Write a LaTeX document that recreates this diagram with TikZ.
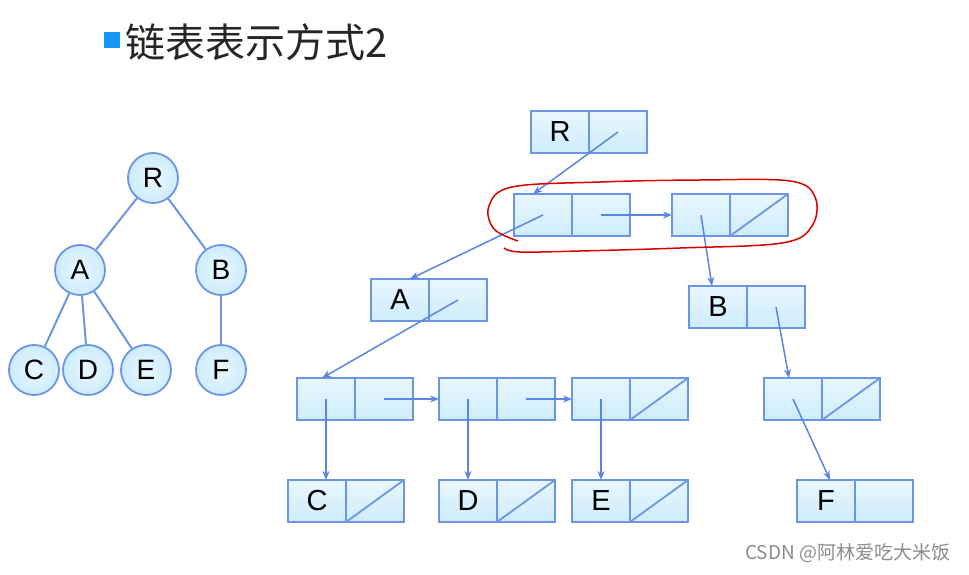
\documentclass[tikz,border=0pt]{standalone}
\usepackage{fontspec}
\setmainfont{Liberation Sans}
\newfontfamily\cjkfont{Noto Sans CJK SC}
\usetikzlibrary{positioning,arrows.meta}

\definecolor{cellfill}{RGB}{206,236,251}
\definecolor{celltop}{RGB}{232,247,254}
\definecolor{cellline}{RGB}{108,150,228}
\definecolor{ptrblue}{RGB}{92,132,226}
\definecolor{markblue}{RGB}{20,150,250}

\begin{document}
\begin{tikzpicture}[x=1pt,y=-1pt,
		cell/.style={rectangle,draw=cellline,line width=1.8pt,top color=celltop,bottom color=cellfill,
			minimum width=58pt,minimum height=42pt,inner sep=0pt,outer sep=0pt,
			font=\fontsize{29}{29}\selectfont},
		knot/.style={circle,draw=cellline,line width=1.8pt,inner color=celltop,outer color=cellfill,
			minimum size=50pt,inner sep=0pt,font=\fontsize{28}{28}\selectfont},
		edge/.style={draw=cellline,line width=2pt},
		ptr/.style={draw=ptrblue,line width=1.5pt,-{Stealth[length=9pt,width=7pt]}},
		slash/.style={draw=cellline,line width=1.8pt},
		ring/.style={draw=red!85!black,line width=1.5pt}]
		
		\useasboundingbox (0,0) rectangle (969,575);
		
		%title
		\fill[markblue] (104,32) rectangle (120,48);
		\node[anchor=west,inner sep=0pt,text=black!85,font=\cjkfont\fontsize{40}{40}\selectfont] (title) at (125,42) {链表表示方式2};
		
		%tree
		\foreach \nm/\x/\y in {R/153/178, A/80/270, B/221/270, C/34/370, D/88/370, E/146/370, F/221/370}
		\node[knot] (t\nm) at (\x,\y) {\nm};
		
		\foreach \von/\nach in {R/A, R/B, A/C, A/D, A/E, B/F}
		\draw[edge] (t\von) -- (t\nach);
		
		%lists
		\foreach \nm/\x/\y/\txt in {r/560/132/R, s/543/215/, t/701/215/, a/400/300/A, b/718/307/B,
			u/326/399/, v/468/399/, w/601/399/, z/793/399/, c/317/501/C, d/468/501/D, e/601/501/E, f/826/501/F}
		{
			\node[cell] (\nm1) at (\x,\y) {\txt};
			\node[cell,right=0pt of \nm1] (\nm2) {};
		}
		
		\foreach \nm in {t,w,z,c,d,e}
		\draw[slash] (\nm2.south west) -- (\nm2.north east);
		
		%pointer
		\draw[ptr] (r2.center) -- ([xshift=-10pt]s1.north);
		\draw[ptr] (s2.center) -- (t1.west);
		\draw[ptr] (s1.center) -- ([xshift=10pt]a1.north);
		\draw[ptr] (t1.center) -- ([xshift=-6pt]b1.north);
		\draw[ptr] (a2.center) -- ([xshift=-4pt]u1.north);
		\draw[ptr] (b2.center) -- ([xshift=-4pt]z1.north);
		\draw[ptr] (u2.center) -- (v1.west);
		\draw[ptr] (v2.center) -- (w1.west);
		\draw[ptr] (u1.center) -- (u1.center |- c1.north);
		\draw[ptr] (v1.center) -- (v1.center |- d1.north);
		\draw[ptr] (w1.center) -- (w1.center |- e1.north);
		\draw[ptr] (z1.center) -- ([xshift=4pt]f1.north);
		
		%markierung
		\draw[ring] plot[smooth,tension=0.6] coordinates {(518,241) (494,229) (489,206) (512,187) (600,182)
			(700,180) (790,181) (815,197) (812,226) (782,243) (680,248) (580,251) (520,252) (504,248)};
		
		%watermark
		\node[anchor=west,inner sep=0pt,text=black!45,font=\cjkfont\fontsize{19}{19}\selectfont] (wm) at (745,553) {CSDN @阿林爱吃大米饭};
		
\end{tikzpicture}
\end{document}
